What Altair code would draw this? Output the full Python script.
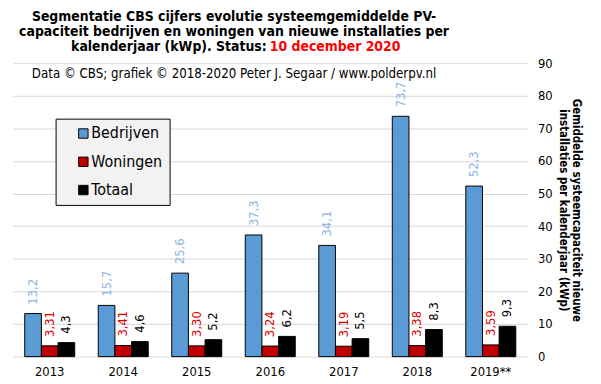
import altair as alt
import pandas as pd

years = ["2013", "2014", "2015", "2016", "2017", "2018", "2019**"]
series = ["Bedrijven", "Woningen", "Totaal"]
bedrijven = [13.2, 15.7, 25.6, 37.3, 34.1, 73.7, 52.3]
woningen = [3.31, 3.41, 3.30, 3.24, 3.19, 3.38, 3.59]
totaal = [4.3, 4.6, 5.2, 6.2, 5.5, 8.3, 9.3]
bar_colors = ["#5b9bd5", "#c00000", "#000000"]
label_colors = ["#8db4e2", "#e00000", "#000000"]
decimals = [1, 2, 1]
y_ticks = [0, 10, 20, 30, 40, 50, 60, 70, 80, 90]

title_lines = [
    "Segmentatie CBS cijfers evolutie systeemgemiddelde PV-",
    "capaciteit bedrijven en woningen van nieuwe installaties per",
]
title_l3_black = "kalenderjaar (kWp). Status: "
title_l3_red = "10 december 2020"
subtitle = "Data \u00a9 CBS; grafiek \u00a9 2018-2020  Peter J. Segaar / www.polderpv.nl"
y_title = ["Gemiddelde systeemcapaciteit nieuwe", "installaties per kalenderjaar (kWp)"]

FONT = "DejaVu Sans Condensed, DejaVu Sans"

rows = []
for s, vals, lc, d in zip(series, [bedrijven, woningen, totaal], label_colors, decimals):
    for y, v in zip(years, vals):
        rows.append({"year": y, "series": s, "value": v,
                     "label": f"{v:.{d}f}".replace(".", ","), "lcolor": lc})
df = pd.DataFrame(rows)

W, H = 519, 296

base = alt.Chart(df).encode(
    x=alt.X("year:N", sort=years,
            scale=alt.Scale(paddingInner=0.32, paddingOuter=0.16),
            axis=alt.Axis(title=None, labelAngle=0, ticks=False, domain=False,
                          labelFontSize=13, labelFont=FONT, labelColor="black",
                          labelPadding=9)),
    xOffset=alt.XOffset("series:N", sort=series, scale=alt.Scale(paddingInner=0, paddingOuter=0)),
    y=alt.Y("value:Q", scale=alt.Scale(domain=[0, 90], nice=False),
            axis=alt.Axis(orient="right", values=y_ticks, tickCount=10,
                          grid=True, gridColor="#d9d9d9", domain=False, ticks=False,
                          labelFontSize=13, labelFont=FONT, labelColor="black",
                          labelPadding=10, labelOverlap=False, labelFlush=False,
                          title=y_title, titleAngle=90,
                          titleFont=FONT, titleFontSize=11.5, titleFontWeight="bold",
                          titleColor="black", titlePadding=5)),
)

bars = base.mark_bar(stroke="black", strokeWidth=1).encode(
    color=alt.Color("series:N", sort=series,
                    scale=alt.Scale(domain=series, range=bar_colors),
                    legend=alt.Legend(title=None, orient="none", legendX=43, legendY=56,
                                      fillColor="#f2f2f2", strokeColor="black",
                                      padding=7, rowPadding=12.5, symbolType="square",
                                      symbolSize=90, symbolStrokeColor="black",
                                      symbolStrokeWidth=1, symbolOffset=13,
                                      labelFontSize=16, labelFont=FONT,
                                      labelColor="black", labelOffset=0)),
)

labels = base.mark_text(angle=270, align="left", baseline="middle", dx=9,
                        fontSize=13, font=FONT).encode(
    text="label:N",
    color=alt.Color("lcolor:N", scale=None),
)

tdf = pd.DataFrame({"t": title_lines, "yy": [-42, -27]})
title12 = alt.Chart(tdf).mark_text(fontSize=14, fontWeight="bold", font=FONT,
                                   align="center", baseline="alphabetic", color="black").encode(
    x=alt.value(223), y=alt.Y("yy:Q", scale=None), text="t:N")

t3b = alt.Chart(pd.DataFrame({"t": [title_l3_black]})).mark_text(
    fontSize=14, fontWeight="bold", font=FONT, align="right", baseline="alphabetic",
    color="black").encode(x=alt.value(256), y=alt.value(-12), text="t:N")
t3r = alt.Chart(pd.DataFrame({"t": [title_l3_red]})).mark_text(
    fontSize=14, fontWeight="bold", font=FONT, align="left", baseline="alphabetic",
    color="#ff0000").encode(x=alt.value(259), y=alt.value(-12), text="t:N")
sub = alt.Chart(pd.DataFrame({"t": [subtitle]})).mark_text(
    fontSize=13.3, font=FONT, align="center", baseline="alphabetic",
    color="black").encode(x=alt.value(223), y=alt.value(15), text="t:N")

chart = alt.layer(bars, labels, title12, t3b, t3r, sub).properties(
    width=W, height=H,
    background="white",
    autosize=alt.AutoSizeParams(type="none"),
    padding={"left": 5, "top": 54, "right": 66, "bottom": 24},
).configure_view(stroke=None)

chart.save("out.html", embed_options={"renderer": "svg", "actions": False})
